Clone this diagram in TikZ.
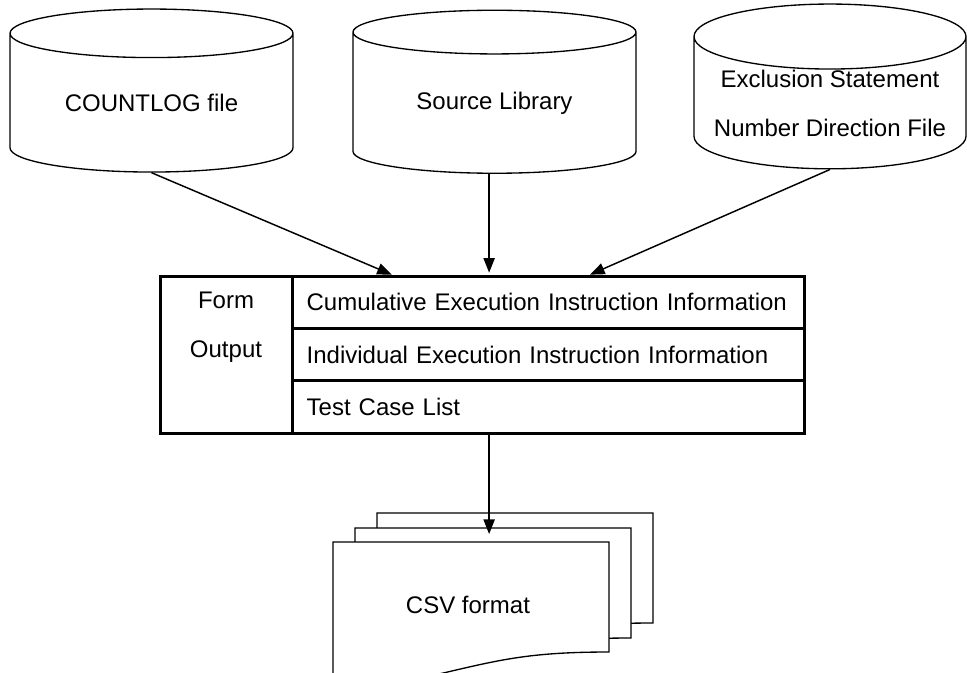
\documentclass[tikz,border=0pt]{standalone}
\usepackage{fontspec}
\setmainfont{Liberation Sans}
\usetikzlibrary{shapes.geometric, arrows.meta, positioning, calc}

% outline of one sheet of the document stack, drawn round a named node
\newcommand{\sheetoutline}[1]{%
	\path[sheetline] (#1.north west) -- (#1.north east) -- (#1.south east)
		.. controls +(-80,0) and +(60,-14) .. ++(-170,22)
		.. controls +(-50,12) and +(40,0) .. ++(-106,4) -- cycle;}

\begin{document}
\begin{tikzpicture}[
		x=0.75pt, y=-0.75pt,
		every node/.style={font=\fontsize{18}{36.75}\selectfont},
		store/.style={draw, line width=1pt, cylinder, shape border rotate=90, aspect=0.28,
			minimum width=212.25pt, minimum height=122.25pt, align=center, inner sep=0pt},
		rowcell/.style={draw, line width=2.25pt, outer sep=0pt, minimum height=39.25pt,
			text width=362pt, inner xsep=11pt, inner ysep=0pt, align=left},
		formcell/.style={draw, line width=2.25pt, outer sep=0pt,
			minimum width=99pt, minimum height=117.75pt},
		sheet/.style={minimum width=207pt, minimum height=82.5pt, inner sep=0pt, outer sep=0pt},
		sheetline/.style={draw, fill=white, line width=1pt},
		flow/.style={-{Triangle[length=11pt, width=8.5pt]}, line width=1.1pt}]
	\useasboundingbox (0,0) rectangle (967,672);

	% data stores
	\node[store] (countlog) at (151.5,103) {COUNTLOG file};
	\node[store] (srclib) at (494.5,103) {Source Library};
	\node[store, minimum width=204pt] (exclfile) at (830,103) {Exclusion Statement\\Number Direction File};

	% form output table
	\node[rowcell, anchor=north west] (cumul) at (292,276) {Cumulative Execution Instruction Information};
	\node[rowcell, below=0pt of cumul] (indiv) {Individual Execution Instruction Information};
	\node[rowcell, below=0pt of indiv] (tcl) {Test Case List};
	\node[formcell, anchor=north east] (formcol) at (cumul.north west) {};
	\node[align=center] (formtext) at (formcol.center |- 0,327.5) {Form\\Output};

	% document stack
	\node[sheet] (csv) at (471,597) {};
	\node[sheet] (sheetmid) at ($(csv)+(22,-14)$) {};
	\node[sheet] (sheetback) at ($(csv)+(44,-29)$) {};
	\sheetoutline{sheetback}
	\sheetoutline{sheetmid}
	\sheetoutline{csv}
	\node (csvtext) at ($(csv.center)+(-3,8)$) {CSV format};

	% connectors
	\coordinate (midin) at ($(cumul.north west)!0.385!(cumul.north east)$);
	\draw[flow, shorten >=2.5pt] (countlog.south) -- ($(cumul.north west)!0.201!(cumul.north east)$);
	\draw[flow, shorten >=2.5pt] (midin |- srclib.south) -- (midin);
	\draw[flow, shorten >=2.5pt] (exclfile.south) -- ($(cumul.north west)!0.576!(cumul.north east)$);
	\draw[flow] (midin |- tcl.south) -- ($(midin |- sheetmid.north)+(0,6)$);
\end{tikzpicture}
\end{document}
